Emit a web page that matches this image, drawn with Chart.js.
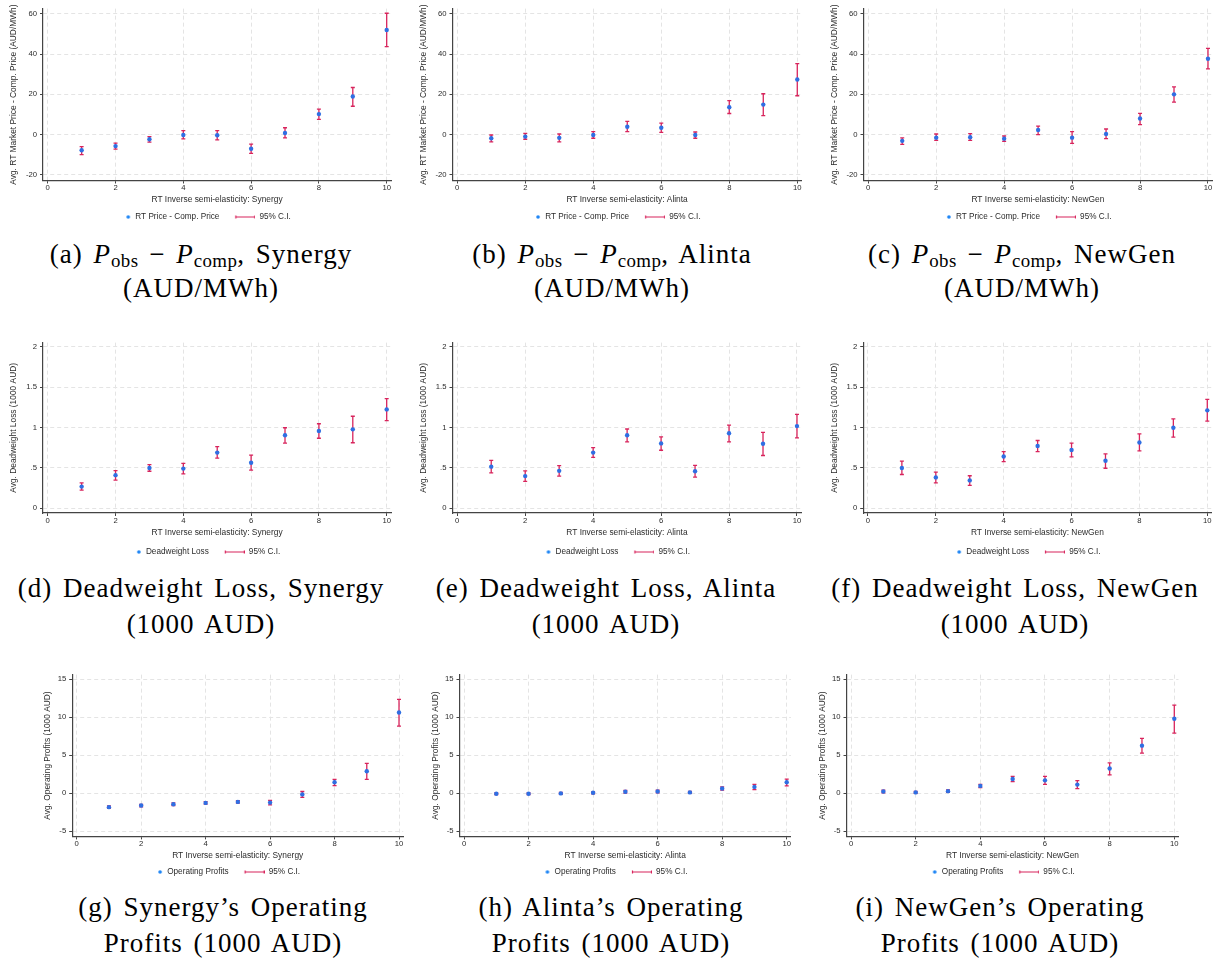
<!DOCTYPE html>
<html>
<head>
<meta charset="utf-8">
<script src="https://cdn.jsdelivr.net/npm/chart.js@4.4.1/dist/chart.umd.min.js"></script>
<style>
  html, body { margin: 0; padding: 0; background: #fff; overflow: hidden; }
  body { width: 1224px; height: 964px; position: relative; }
  .panel { position: absolute; }
  .cap {
    position: absolute; width: 460px; text-align: center; white-space: nowrap;
    font-family: "Liberation Serif", "Times New Roman", serif; font-size: 27px;
    letter-spacing: 1px; word-spacing: 3px; color: #000;
  }
  .cap sub { font-size: 0.7em; vertical-align: -0.2em; line-height: 0; letter-spacing: 0.4px; }
</style>
</head>
<body>
<script>
// ---- datos ----
const xVals  = [1, 2, 3, 4, 5, 6, 7, 8, 9, 10];
const xTicks = [0, 2, 4, 6, 8, 10];

const priceTicks  = [-20, 0, 20, 40, 60];
const dwlTicks    = [0, 0.5, 1, 1.5, 2];
const profitTicks = [-5, 0, 5, 10, 15];

// P_obs - P_comp (AUD/MWh)
const priceSynergy   = [-7.8, -5.7, -2.3, -0.2, -0.3, -7.0, 0.8, 10.2, 18.9, 52.0];
const priceSynergyLo = [-9.9, -7.2, -3.7, -2.1, -2.6, -9.3, -1.6, 7.6, 14.1, 43.7];
const priceSynergyHi = [-6.0, -4.2, -1.0, 2.0, 2.0, -4.7, 3.4, 12.7, 23.4, 60.3];

const priceAlinta   = [-1.8, -1.0, -1.6, -0.2, 3.9, 3.4, -0.2, 13.6, 14.9, 27.4];
const priceAlintaLo = [-3.6, -2.3, -3.6, -1.8, 1.5, 1.1, -1.8, 10.5, 9.4, 19.3];
const priceAlintaHi = [-0.2, 0.6, 0.3, 1.5, 6.6, 5.7, 1.3, 16.9, 20.3, 35.3];

const priceNewGen   = [-3.1, -1.5, -1.3, -2.0, 2.3, -1.5, 0.3, 8.0, 20.0, 37.7];
const priceNewGenLo = [-4.9, -2.9, -2.9, -3.4, 0.0, -4.4, -2.0, 5.0, 16.1, 32.7];
const priceNewGenHi = [-1.6, 0.3, 0.5, -0.7, 4.2, 1.5, 2.8, 10.6, 23.7, 42.8];

// Deadweight loss (1000 AUD)
const dwlSynergy   = [0.267, 0.409, 0.498, 0.49, 0.688, 0.563, 0.903, 0.955, 0.976, 1.223];
const dwlSynergyLo = [0.223, 0.348, 0.457, 0.425, 0.619, 0.47, 0.806, 0.866, 0.81, 1.085];
const dwlSynergyHi = [0.312, 0.466, 0.538, 0.555, 0.761, 0.656, 0.996, 1.045, 1.138, 1.356];

const dwlAlinta   = [0.514, 0.397, 0.462, 0.688, 0.903, 0.802, 0.457, 0.927, 0.798, 1.016];
const dwlAlintaLo = [0.437, 0.332, 0.397, 0.628, 0.822, 0.717, 0.385, 0.822, 0.652, 0.87];
const dwlAlintaHi = [0.591, 0.462, 0.526, 0.749, 0.98, 0.883, 0.53, 1.028, 0.939, 1.162];

const dwlNewGen   = [0.498, 0.381, 0.344, 0.64, 0.769, 0.721, 0.587, 0.814, 0.996, 1.211];
const dwlNewGenLo = [0.417, 0.312, 0.283, 0.575, 0.7, 0.636, 0.494, 0.709, 0.879, 1.077];
const dwlNewGenHi = [0.583, 0.445, 0.401, 0.7, 0.838, 0.806, 0.672, 0.919, 1.105, 1.348];

// Operating profits (1000 AUD)
const profSynergy   = [-1.85, -1.63, -1.46, -1.29, -1.16, -1.25, -0.17, 1.42, 2.88, 10.61];
const profSynergyLo = [-2.02, -1.8, -1.63, -1.46, -1.33, -1.55, -0.56, 0.99, 1.8, 8.81];
const profSynergyHi = [-1.68, -1.5, -1.29, -1.12, -0.99, -0.95, 0.21, 1.8, 3.91, 12.33];

const profAlinta   = [-0.09, -0.09, -0.04, 0.04, 0.17, 0.21, 0.09, 0.6, 0.82, 1.42];
const profAlintaLo = [-0.21, -0.21, -0.17, -0.09, 0.0, 0.04, -0.04, 0.39, 0.47, 0.95];
const profAlintaHi = [0.04, 0.04, 0.09, 0.17, 0.34, 0.39, 0.21, 0.82, 1.16, 1.85];

const profNewGen   = [0.22, 0.09, 0.26, 0.95, 1.85, 1.68, 1.12, 3.23, 6.25, 9.78];
const profNewGenLo = [0.04, -0.04, 0.09, 0.73, 1.51, 1.16, 0.6, 2.41, 5.26, 7.89];
const profNewGenHi = [0.39, 0.22, 0.43, 1.16, 2.2, 2.2, 1.64, 3.97, 7.2, 11.59];

// ---- estilo ----
const SANS = '"Liberation Sans", Arial, sans-serif';
const TXT = '#2b2b2b';
const BLUE = '#2f6fe3';
const RED = '#d8245c';
const GRID = '#e4e4e4';
const AXIS = '#444';
const LEG_FONT = 8.2;
const LEG_PAD = 4;
const TITLE_FONT = 8.4;
const TICK_FONT = 7.7;

// filas: escalas y posiciones verticales
const rows = [
  { yMin: -22.8, yMax: 62.6, yTicks: priceTicks, legend: 'RT Price - Comp. Price',
    yTitle: 'Avg. RT Market Price - Comp. Price (AUD/MWh)',
    plotTop: 5.4, plotBottom: 180.5, legendY: 217, xTitleY: 200, yTitleGap: 29 },
  { yMin: -0.06, yMax: 2.05, yTicks: dwlTicks, legend: 'Deadweight Loss',
    yTitle: 'Avg. Deadweight Loss (1000 AUD)',
    plotTop: 339.2, plotBottom: 513, legendY: 552, xTitleY: 533, yTitleGap: 29 },
  { yMin: -5.7, yMax: 15.6, yTicks: profitTicks, legend: 'Operating Profits',
    yTitle: 'Avg. Operating Profits (1000 AUD)',
    plotTop: 671.4, plotBottom: 836.4, legendY: 872, xTitleY: 855.7, yTitleGap: 24.3 }
];

const panels = [
  { row: 0, firm: 'Synergy', mean: priceSynergy, lo: priceSynergyLo, hi: priceSynergyHi, axisX: 43.0, plotRight: 391.1 },
  { row: 0, firm: 'Alinta',  mean: priceAlinta,  lo: priceAlintaLo,  hi: priceAlintaHi,  axisX: 452.5, plotRight: 801.7 },
  { row: 0, firm: 'NewGen',  mean: priceNewGen,  lo: priceNewGenLo,  hi: priceNewGenHi,  axisX: 863.5, plotRight: 1212.4 },
  { row: 1, firm: 'Synergy', mean: dwlSynergy, lo: dwlSynergyLo, hi: dwlSynergyHi, axisX: 43.0, plotRight: 391.1 },
  { row: 1, firm: 'Alinta',  mean: dwlAlinta,  lo: dwlAlintaLo,  hi: dwlAlintaHi,  axisX: 452.5, plotRight: 801.4 },
  { row: 1, firm: 'NewGen',  mean: dwlNewGen,  lo: dwlNewGenLo,  hi: dwlNewGenHi,  axisX: 863.2, plotRight: 1211.7 },
  { row: 2, firm: 'Synergy', mean: profSynergy, lo: profSynergyLo, hi: profSynergyHi, axisX: 72.2, plotRight: 403.2 },
  { row: 2, firm: 'Alinta',  mean: profAlinta,  lo: profAlintaLo,  hi: profAlintaHi,  axisX: 459.5, plotRight: 790.9 },
  { row: 2, firm: 'NewGen',  mean: profNewGen,  lo: profNewGenLo,  hi: profNewGenHi,  axisX: 846.5, plotRight: 1178.5 }
];

// subtítulos (LaTeX en el original)
const PDIFF = '<i>P</i><sub>obs</sub> − <i>P</i><sub>comp</sub>';
const captions = [
  ['(a) ' + PDIFF + ', Synergy', '(AUD/MWh)'],
  ['(b) ' + PDIFF + ', Alinta', '(AUD/MWh)'],
  ['(c) ' + PDIFF + ', NewGen', '(AUD/MWh)'],
  ['(d) Deadweight Loss, Synergy', '(1000 AUD)'],
  ['(e) Deadweight Loss, Alinta', '(1000 AUD)'],
  ['(f) Deadweight Loss, NewGen', '(1000 AUD)'],
  ['(g) Synergy’s Operating', 'Profits (1000 AUD)'],
  ['(h) Alinta’s Operating', 'Profits (1000 AUD)'],
  ['(i) NewGen’s Operating', 'Profits (1000 AUD)']
];
const capCenters = [201, 612, 1022, 201, 606, 1015, 223, 611, 1000];
const capTops = [236.9, 569.9, 888.9];
const capLine = [34, 36, 36];

// 📏 barras de error (IC 95%) dibujadas con la escala y del gráfico
const errorBarPlugin = {
  id: 'errorBars',
  beforeDatasetsDraw(chart) {
    const ctx = chart.ctx;
    const yScale = chart.scales.y;
    chart.data.datasets.forEach((ds, di) => {
      if (!ds.errorBars) return;
      const meta = chart.getDatasetMeta(di);
      ctx.save();
      ctx.strokeStyle = ds.borderColor;
      ctx.lineWidth = 1.3;
      meta.data.forEach((pt, i) => {
        const yLo = yScale.getPixelForValue(ds.data[i].y);
        const yHi = yScale.getPixelForValue(ds.data[i].hi);
        ctx.beginPath();
        ctx.moveTo(pt.x, yLo); ctx.lineTo(pt.x, yHi);
        ctx.moveTo(pt.x - 2, yLo); ctx.lineTo(pt.x + 2, yLo);
        ctx.moveTo(pt.x - 2, yHi); ctx.lineTo(pt.x + 2, yHi);
        ctx.stroke();
      });
      ctx.restore();
    });
  }
};

// iconos de la leyenda
function legendIcon(draw) {
  const c = document.createElement('canvas');
  c.width = 32; c.height = 8;
  draw(c.getContext('2d'));
  return c;
}
const dotIcon = legendIcon(g => {
  g.fillStyle = '#1f86f5';
  g.beginPath(); g.arc(29, 4, 1.8, 0, Math.PI * 2); g.fill();
});
const ciIcon = legendIcon(g => {
  g.strokeStyle = RED; g.lineWidth = 1.2;
  g.beginPath();
  g.moveTo(12, 4); g.lineTo(32, 4);
  g.moveTo(12.5, 2.5); g.lineTo(12.5, 5.5);
  g.moveTo(31.5, 2.5); g.lineTo(31.5, 5.5);
  g.stroke();
});
const legendIcons = [dotIcon, ciIcon];

function fmtTick(v) {
  return String(v).replace(/^0\./, '.').replace(/^-0\./, '-.');
}

function crearPanel(p) {
  const row = rows[p.row];
  const legendH = LEG_FONT + LEG_PAD + 10;
  const legendTop = row.legendY - LEG_PAD - LEG_FONT / 2;
  const xScaleH = legendTop - row.plotBottom;
  const plotCenter = (p.axisX + p.plotRight) / 2;

  const left = Math.floor(p.axisX - 44);
  const top = Math.floor(row.plotTop - 4);
  const width = Math.round(2 * (plotCenter - 13.6) - left) - left;
  const exactH = legendTop + legendH - top;
  const height = Math.ceil(exactH);

  const wrap = document.createElement('div');
  wrap.className = 'panel';
  wrap.style.left = left + 'px';
  wrap.style.top = top + 'px';
  const cv = document.createElement('canvas');
  cv.width = width; cv.height = height;
  cv.style.width = width + 'px'; cv.style.height = height + 'px';
  wrap.appendChild(cv);
  document.body.appendChild(wrap);

  const font = size => ({ family: SANS, size: size });
  const xTitlePad = legendTop - row.xTitleY - TITLE_FONT * 1.2 / 2;
  const yTitlePad = (p.axisX - left - row.yTitleGap) - TITLE_FONT * 1.2 / 2;

  return new Chart(cv, {
    type: 'scatter',
    data: {
      datasets: [
        {
          label: row.legend,
          data: xVals.map((x, i) => ({ x: x, y: p.mean[i] })),
          pointRadius: 2.2, pointHoverRadius: 2.2,
          pointBackgroundColor: BLUE, pointBorderWidth: 0,
          borderColor: BLUE
        },
        {
          label: '95% C.I.',
          data: xVals.map((x, i) => ({ x: x, y: p.lo[i], hi: p.hi[i] })),
          pointRadius: 0, pointHoverRadius: 0,
          errorBars: true, borderColor: RED
        }
      ]
    },
    options: {
      responsive: false,
      animation: false,
      layout: {
        padding: {
          top: row.plotTop - top,
          left: 0,
          right: width - (p.plotRight - left),
          bottom: height - exactH
        }
      },
      plugins: {
        tooltip: { enabled: false },
        legend: {
          position: 'bottom',
          labels: {
            usePointStyle: true,
            pointStyleWidth: 32,
            padding: LEG_PAD,
            font: font(LEG_FONT),
            color: TXT,
            generateLabels: chart => chart.data.datasets.map((ds, i) => ({
              text: ds.label, pointStyle: legendIcons[i], datasetIndex: i,
              hidden: false, fillStyle: 'transparent', strokeStyle: 'transparent',
              lineWidth: 0, fontColor: TXT
            }))
          }
        }
      },
      scales: {
        x: {
          type: 'linear', min: -0.14, max: 10.13,
          afterBuildTicks: s => { s.ticks = xTicks.map(v => ({ value: v })); },
          afterFit: s => { s.height = xScaleH; },
          grid: { color: GRID, tickColor: AXIS, tickLength: 3, tickWidth: 1 },
          border: { color: AXIS, width: 1.2, dash: [4, 3] },
          ticks: { padding: 0, maxRotation: 0, autoSkip: false, font: font(TICK_FONT), color: TXT },
          title: {
            display: true, text: 'RT Inverse semi-elasticity: ' + p.firm,
            font: font(TITLE_FONT), color: TXT,
            padding: { top: 0, bottom: xTitlePad }
          }
        },
        y: {
          type: 'linear', min: row.yMin, max: row.yMax,
          afterBuildTicks: s => { s.ticks = row.yTicks.map(v => ({ value: v })); },
          afterFit: s => { s.width = p.axisX - left; },
          grid: { color: GRID, tickColor: AXIS, tickLength: 3, tickWidth: 1 },
          border: { color: AXIS, width: 1.2, dash: [4, 3] },
          ticks: { padding: 3, autoSkip: false, font: font(TICK_FONT), color: TXT, callback: v => fmtTick(v) },
          title: {
            display: true, text: row.yTitle,
            font: font(TITLE_FONT), color: TXT,
            padding: { top: yTitlePad, bottom: 0 }
          }
        }
      }
    },
    plugins: [errorBarPlugin]
  });
}

panels.forEach(crearPanel);

// 📝 subtítulos de cada panel
captions.forEach((lines, i) => {
  const r = Math.floor(i / 3);
  const d = document.createElement('div');
  d.className = 'cap';
  d.style.left = (capCenters[i] - 230) + 'px';
  d.style.top = capTops[r] + 'px';
  d.style.lineHeight = capLine[r] + 'px';
  d.innerHTML = lines.join('<br>');
  document.body.appendChild(d);
});
</script>
</body>
</html>
